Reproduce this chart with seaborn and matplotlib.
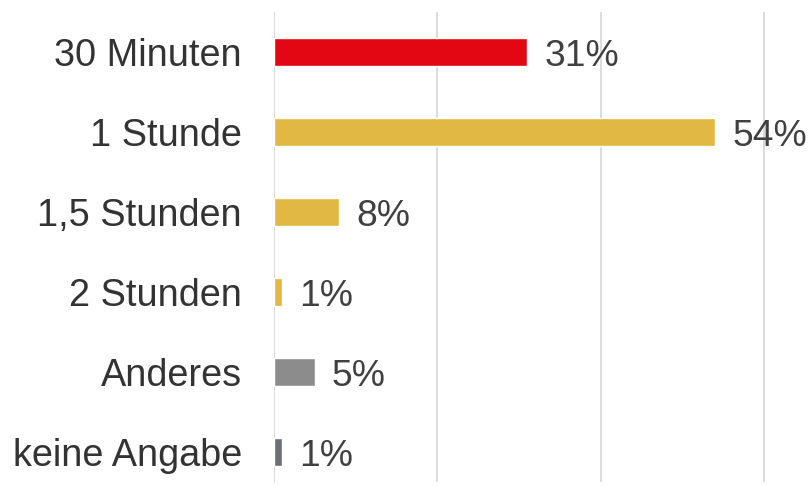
import matplotlib
matplotlib.use("Agg")
import matplotlib.pyplot as plt
import seaborn as sns
import pandas as pd

categories = ["30 Minuten", "1 Stunde", "1,5 Stunden", "2 Stunden", "Anderes", "keine Angabe"]
values = [31, 54, 8, 1, 5, 1]
colors = ["#E30613", "#E0B843", "#E0B843", "#E0B843", "#8C8C8C", "#6D6E75"]

df = pd.DataFrame({"cat": categories, "val": values})

sns.set_theme(style="white")
plt.rcParams["font.family"] = ["Liberation Sans", "DejaVu Sans"]

fig = plt.figure(figsize=(8.1, 4.86), dpi=100)
ax = fig.add_axes([274 / 810, 4 / 486, (810 - 274) / 810, (486 - 12 - 4) / 486])

sns.barplot(data=df, x="val", y="cat", hue="cat", palette=colors, legend=False,
            width=0.36, ax=ax, saturation=1)

ax.set_xlim(0, 65.6)
ax.set_ylim(5.375, -0.5)
ax.set_xticks([0, 20, 40, 60])
ax.xaxis.grid(True, color="#D9D9D9", linewidth=1.3)
ax.set_axisbelow(True)
ax.set_xticklabels([])
ax.tick_params(axis="x", length=0)
ax.tick_params(axis="y", length=0, pad=23, labelsize=27.3, labelcolor="#333333")
for s in ax.spines.values():
    s.set_visible(False)
ax.set_xlabel("")
ax.set_ylabel("")

for i, v in enumerate(values):
    ax.text(v + 2.1, i, f"{v}%", va="center_baseline", ha="left", fontsize=26.8, color="#404040")

fig.savefig("out.png", dpi=100)
